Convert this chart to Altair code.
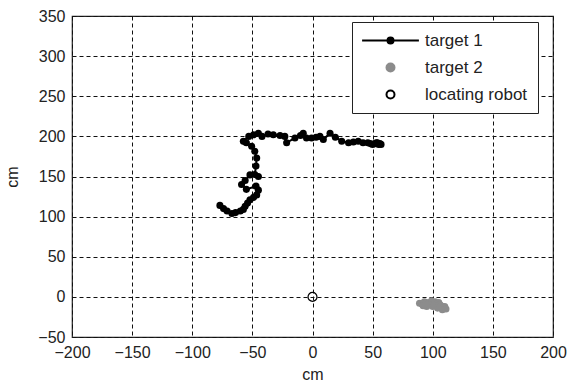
import altair as alt
import pandas as pd

# target 1 trajectory (cm)
t1_x = [-77, -74, -71, -67, -64, -60, -57.5, -56, -54, -52, -49, -46.4, -45, -47, -55, -59, -56,
        -52, -45, -48, -47, -46.4, -48, -50.6, -55, -57.5, -53, -49, -45, -42, -37, -32.6, -27,
        -23, -21.5, -14.6, -10, -7.7, -5, -0.8, 3, 6.2, 9, 14.6, 19, 24.3, 30, 34, 38, 42, 46,
        48, 50, 52, 54, 56, 53, 57, 55]
t1_y = [114, 110, 107, 104, 105, 107, 109, 113, 117, 121, 124, 127, 133, 138, 134, 140, 145,
        152, 150, 152.5, 163, 173, 181.5, 187.6, 192, 193.8, 200, 202, 204, 200, 203, 202, 201,
        200, 192, 198, 201, 204, 198, 198, 199, 200, 196, 204, 199, 194, 192, 193, 194, 192, 192,
        191, 190, 191, 192, 191, 192, 190, 190]

# target 2 positions (cm)
t2_x = [89, 91, 93, 95, 96, 98, 99, 101, 102, 103, 105, 106, 107, 109, 110, 111, 108, 104, 100,
        95, 92]
t2_y = [-8, -9, -6, -7, -9, -7, -5, -8, -6, -10, -7, -10, -11, -13, -12, -15, -16, -14, -12,
        -12, -11]

# locating robot
robot_x = [0]
robot_y = [0]

series = ["target 1", "target 2", "locating robot"]
x_ticks = [-200, -150, -100, -50, 0, 50, 100, 150, 200]
y_ticks = [-50, 0, 50, 100, 150, 200, 250, 300, 350]

df1 = pd.DataFrame({"x": t1_x, "y": t1_y, "i": range(len(t1_x)), "series": "target 1"})
df2 = pd.DataFrame({"x": t2_x, "y": t2_y, "series": "target 2"})
df3 = pd.DataFrame({"x": robot_x, "y": robot_y, "series": "locating robot"})
dfall = pd.concat([df1, df2, df3], ignore_index=True)

FONT = "Liberation Sans"

xenc = alt.X("x:Q", scale=alt.Scale(domain=[-200, 200], nice=False, zero=False),
             axis=alt.Axis(values=x_ticks, title="cm", grid=True, labelFlush=False,
                           labelOverlap=False, titlePadding=6))
yenc = alt.Y("y:Q", scale=alt.Scale(domain=[-50, 350], nice=False, zero=False),
             axis=alt.Axis(values=y_ticks, title="cm", grid=True, labelFlush=False,
                           labelOverlap=False, titlePadding=17))

line = alt.Chart(df1).mark_line(color="black", strokeWidth=2).encode(
    x=xenc, y=yenc, order="i:Q")
pts1 = alt.Chart(df1).mark_point(filled=True, color="black", size=50, opacity=1,
                                 shape="circle").encode(x=xenc, y=yenc)
pts2 = alt.Chart(df2).mark_point(filled=True, color="#8c8c8c", size=50, opacity=1,
                                 shape="circle").encode(x=xenc, y=yenc)
robot = alt.Chart(df3).mark_point(filled=False, color="black", size=80, opacity=1,
                                  strokeWidth=1.2, shape="circle").encode(x=xenc, y=yenc)

line_symbol = "M-7.1,0H7.1M-0.75,0A0.75,0.75,0,1,1,0.75,0A0.75,0.75,0,1,1,-0.75,0Z"
leg = alt.Legend(title=None, orient="none", legendX=280, legendY=6)
legend_layer = alt.Chart(dfall).transform_filter("false").mark_point(
    opacity=1, strokeWidth=2).encode(
    x=xenc, y=yenc,
    shape=alt.Shape("series:N", scale=alt.Scale(domain=series,
                    range=[line_symbol, "circle", "circle"]), legend=leg),
    fill=alt.Fill("series:N", scale=alt.Scale(domain=series,
                  range=["black", "#8c8c8c", "white"]), legend=leg),
    stroke=alt.Stroke("series:N", scale=alt.Scale(domain=series,
                      range=["black", "#8c8c8c", "black"]), legend=leg),
)

chart = alt.layer(line, pts1, pts2, robot, legend_layer).properties(
    width=481, height=321,
    autosize=alt.AutoSizeParams(type="none"),
    padding={"left": 72, "top": 16, "right": 18, "bottom": 48},
).configure_view(stroke="#222", strokeWidth=1.2).configure_axis(
    domain=False, gridColor="#111", gridDash=[4, 3], gridWidth=1, gridOpacity=1,
    tickSize=0, labelFont=FONT, labelFontSize=16, labelColor="#222", labelPadding=7,
    titleFont=FONT, titleFontSize=16, titleFontWeight="normal", titleColor="#222",
).configure_legend(
    labelFont=FONT, labelFontSize=17, labelColor="#222", labelOffset=26, labelLimit=300,
    symbolOffset=20, symbolSize=64, symbolStrokeWidth=2, strokeColor="#222",
    fillColor="white", padding=10, rowPadding=9, cornerRadius=0,
)

chart.save("out.html", embed_options={"renderer": "svg", "actions": False})
